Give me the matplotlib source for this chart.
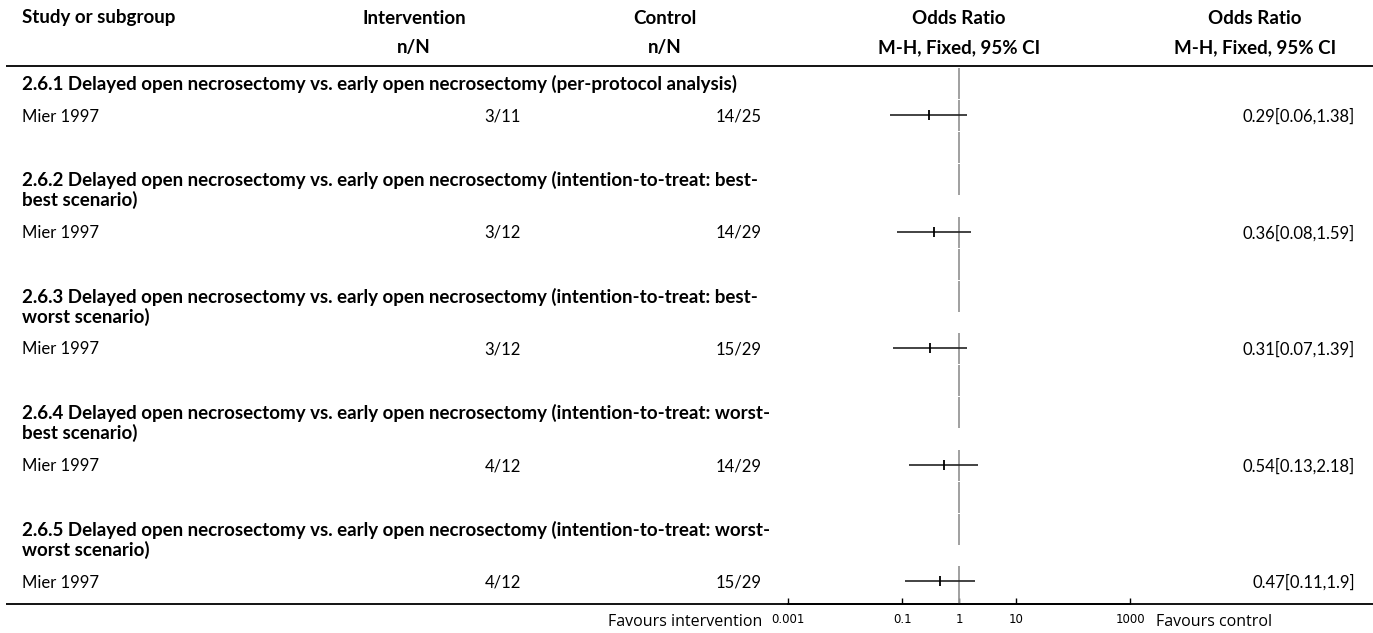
import matplotlib
matplotlib.use("Agg")
import matplotlib.pyplot as plt

plt.rcParams['font.family'] = ['Lato', 'DejaVu Sans']

# ---- data -------------------------------------------------------------
subgroups = [
    "2.6.1 Delayed open necrosectomy vs. early open necrosectomy (per-protocol analysis)",
    "2.6.2 Delayed open necrosectomy vs. early open necrosectomy (intention-to-treat: best-\nbest scenario)",
    "2.6.3 Delayed open necrosectomy vs. early open necrosectomy (intention-to-treat: best-\nworst scenario)",
    "2.6.4 Delayed open necrosectomy vs. early open necrosectomy (intention-to-treat: worst-\nbest scenario)",
    "2.6.5 Delayed open necrosectomy vs. early open necrosectomy (intention-to-treat: worst-\nworst scenario)",
]
studies = ["Mier 1997", "Mier 1997", "Mier 1997", "Mier 1997", "Mier 1997"]
int_events = [3, 3, 3, 4, 4]
int_total = [11, 12, 12, 12, 12]
ctl_events = [14, 14, 15, 14, 15]
ctl_total = [25, 29, 29, 29, 29]
odds_ratio = [0.29, 0.36, 0.31, 0.54, 0.47]
ci_low = [0.06, 0.08, 0.07, 0.13, 0.11]
ci_high = [1.38, 1.59, 1.39, 2.18, 1.9]

tick_values = [0.001, 0.1, 1, 10, 1000]
tick_labels = ["0.001", "0.1", "1", "10", "1000"]

# ---- layout (pixel units, y measured from the top) ---------------------
W, H = 1373, 633
RULE_Y = 66
AXIS_Y = 604
ROW_H = 32
WRAP_H = 20.5
X_STUDY = 21.5
X_INT_R, X_INT_C = 521, 414
X_CTL_R, X_CTL_C = 762, 665
X_PLOT_C = 959
X_EST_R, X_EST_C = 1355, 1255
PLOT_X0, PLOT_X1 = 788.3, 1130

FS = 12      # regular cell text
FSB = 13.5   # bold headings
TXT = "#000000"

fig = plt.figure(figsize=(W / 100, H / 100), dpi=100)
base = fig.add_axes([0, 0, 1, 1])
base.set_xlim(0, W)
base.set_ylim(H, 0)
base.axis("off")

forest = fig.add_axes([PLOT_X0 / W, (H - AXIS_Y) / H,
                       (PLOT_X1 - PLOT_X0) / W, (AXIS_Y - RULE_Y - 1) / H])
forest.set_xscale("log")
forest.set_xlim(0.001, 1000)
forest.set_ylim(AXIS_Y, RULE_Y + 1)
forest.patch.set_alpha(0)
for side in ("top", "left", "right"):
    forest.spines[side].set_visible(False)
forest.spines["bottom"].set_linewidth(1.3)
forest.set_yticks([])
forest.set_xticks(tick_values)
forest.set_xticklabels(tick_labels, family="DejaVu Sans", fontsize=8.5)
forest.xaxis.set_minor_locator(matplotlib.ticker.NullLocator())
forest.tick_params(axis="x", direction="in", length=4, width=1, pad=6.5)


def bold(x, y, s, ha="left"):
    base.text(x, y, s, fontsize=FSB, weight="bold", va="center", ha=ha, color=TXT)


def plain(x, y, s, ha="left"):
    base.text(x, y + 1.5, s, fontsize=FS, va="center", ha=ha, color=TXT)


# ---- column headers --------------------------------------------------
hdr1, hdr2 = 18, 48
bold(X_STUDY, hdr1, "Study or subgroup")
bold(X_INT_C, hdr1, "Intervention", "center")
bold(X_INT_C, hdr2, "n/N", "center")
bold(X_CTL_C, hdr1, "Control", "center")
bold(X_CTL_C, hdr2, "n/N", "center")
bold(X_PLOT_C, hdr1, "Odds Ratio", "center")
bold(X_PLOT_C, hdr2, "M-H, Fixed, 95% CI", "center")
bold(X_EST_C, hdr1, "Odds Ratio", "center")
bold(X_EST_C, hdr2, "M-H, Fixed, 95% CI", "center")
base.plot([6, W], [RULE_Y, RULE_Y], color="black", lw=1.3, solid_capstyle="butt")

# ---- rows ------------------------------------------------------------
y = RULE_Y + 1
segments = []  # spans of the no-effect line
for i, title in enumerate(subgroups):
    lines = title.split("\n")
    # subgroup heading row
    top = y
    mid = top + ROW_H / 2
    for k, ln in enumerate(lines):
        bold(X_STUDY, mid + 1 + k * 20, ln)
    segments.append((top + 1, top + ROW_H))
    y = top + ROW_H + WRAP_H * (len(lines) - 1)

    # study row
    top = y
    mid = top + ROW_H / 2
    plain(X_STUDY, mid, studies[i])
    plain(X_INT_R, mid, f"{int_events[i]}/{int_total[i]}", "right")
    plain(X_CTL_R, mid, f"{ctl_events[i]}/{ctl_total[i]}", "right")
    plain(X_EST_R, mid, f"{odds_ratio[i]:g}[{ci_low[i]:g},{ci_high[i]:g}]", "right")
    forest.hlines(mid, ci_low[i], ci_high[i], color="#222222", lw=1.2, zorder=3)
    forest.plot([odds_ratio[i]], [mid], marker="|", markersize=7, mew=1.3,
                color="black", zorder=4)
    last = i == len(subgroups) - 1
    segments.append((top + 1, AXIS_Y if last else top + ROW_H))
    y = top + ROW_H

    # spacer row
    if not last:
        segments.append((y + 1, y + ROW_H))
        y += ROW_H

for y0, y1 in segments:
    forest.vlines(1, y0, y1, color="#999999", lw=1.3, zorder=2)

# ---- footer ------------------------------------------------------------
base.plot([6, W], [AXIS_Y, AXIS_Y], color="black", lw=1.3, solid_capstyle="butt")
base.text(X_CTL_R, 622, "Favours intervention", family=["Open Sans", "DejaVu Sans"],
          fontsize=11.5, va="center", ha="right", color=TXT)
base.text(1156, 622, "Favours control", family=["Open Sans", "DejaVu Sans"],
          fontsize=11.5, va="center", ha="left", color=TXT)

fig.savefig("out.png", dpi=100)
